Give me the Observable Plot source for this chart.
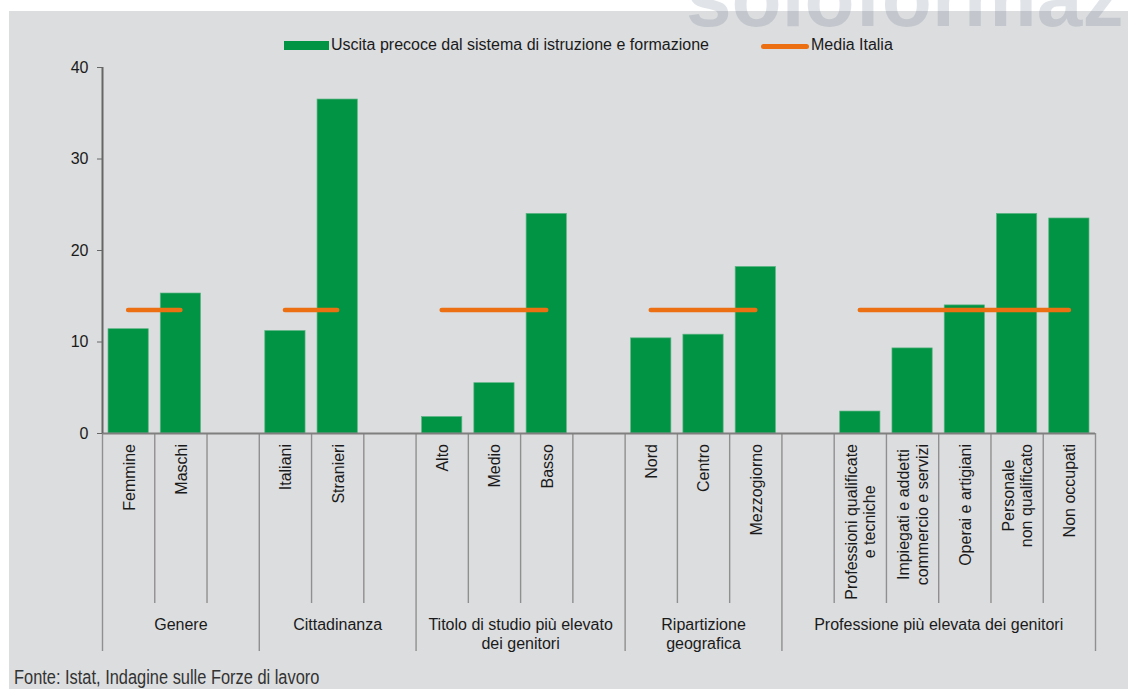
<!DOCTYPE html>
<html>
<head>
<meta charset="utf-8">
<script src="https://cdn.jsdelivr.net/npm/d3@7"></script>
<script src="https://cdn.jsdelivr.net/npm/@observablehq/plot@0.6"></script>
<style>
html, body { margin: 0; padding: 0; background: #fff; }
#page { position: relative; width: 1128px; height: 689px; overflow: hidden; background: #fff;
  font-family: "Liberation Sans", Arial, sans-serif; color: #1a1a1a; }
#panel { position: absolute; left: 9px; top: 11px; right: 0; bottom: 0; background: #dcdddf; }
#wmbox { position: absolute; left: 686px; top: 0; width: 442px; height: 29px; overflow: hidden; }
#watermark { position: absolute; left: 0; top: -43px; font-size: 82px; line-height: 82px; font-weight: bold;
  color: rgba(70, 95, 120, 0.17); white-space: nowrap; }
.lg-text { position: absolute; font-size: 16px; line-height: 16px; white-space: nowrap; color: #1a1a1a; }
#sw1 { position: absolute; left: 284px; top: 41px; width: 45px; height: 9px; background: #009444; }
#sw2 { position: absolute; left: 761px; top: 43.5px; width: 48px; height: 5px; border-radius: 2.5px; background: #ec7012; }
#chart { position: absolute; left: 0; top: 55px; }
#footer { position: absolute; left: 14px; top: 667px; font-family: "Liberation Sans", Arial, sans-serif;
  font-size: 20px; line-height: 20px; color: #333; white-space: nowrap; transform: scaleX(0.82); transform-origin: 0 0; }
</style>
</head>
<body>
<div id="page">
  <div id="panel"></div>
  <div id="wmbox"><div id="watermark">soloformazione</div></div>
  <div id="sw1"></div>
  <div class="lg-text" style="left:331px;top:36.5px">Uscita precoce dal sistema di istruzione e formazione</div>
  <div id="sw2"></div>
  <div class="lg-text" style="left:811px;top:36.5px">Media Italia</div>
  <div id="chart"></div>
  <div id="footer">Fonte: Istat, Indagine sulle Forze di lavoro</div>
</div>
<script>
// ---- data ----
// x slots (tick labels); "" = empty spacer slot
const xSlots = [
  "Femmine", "Maschi", "",
  "Italiani", "Stranieri", "",
  "Alto", "Medio", "Basso", "",
  "Nord", "Centro", "Mezzogiorno",
  "", "Professioni qualificate\ne tecniche", "Impiegati e addetti\ncommercio e servizi",
  "Operai e artigiani", "Personale\nnon qualificato", "Non occupati"
];
// values of the non-empty slots, in order
const values = [11.4, 15.3, 11.2, 36.5, 1.8, 5.5, 24.0, 10.4, 10.8, 18.2, 2.4, 9.3, 14.0, 24.0, 23.5];
const groupNames = [
  "Genere", "Cittadinanza", "Titolo di studio più elevato\ndei genitori",
  "Ripartizione\ngeografica", "Professione più elevata dei genitori"
];
const groupSlotCounts = [3, 3, 4, 3, 6];
const mediaItalia = 13.5;
const yTicks = [0, 10, 20, 30, 40];

// ---- layout ----
const W = 1128, H = 600, marginTop = 12, marginBottom = 222, marginLeft = 102, marginRight = 33;
const plotH = H - marginTop - marginBottom;
const yMax = 40;
const px = p => -p * yMax / plotH;   // pixels below the baseline -> y units

const GREEN = "#009444", ORANGE = "#ec7012", GRID = "#8f8f8f";

// ---- derived tables ----
const bars = [];
let k = 0;
xSlots.forEach((s, i) => { if (s) bars.push({ label: s, slot: i, value: values[k++] }); });

const bounds = [0];
groupSlotCounts.forEach(c => bounds.push(bounds[bounds.length - 1] + c));
const groups = groupNames.map((name, g) => {
  const inside = bars.filter(b => b.slot >= bounds[g] && b.slot < bounds[g + 1]);
  return { name, start: bounds[g], end: bounds[g + 1],
    first: inside[0].slot, last: inside[inside.length - 1].slot, mean: mediaItalia };
});
const inner = d3.range(1, xSlots.length).filter(i => !bounds.includes(i));

const ctx = document.createElement("canvas").getContext("2d");
ctx.font = '16px "Liberation Sans", Arial, sans-serif';
const maxW = s => Math.max(...s.split("\n").map(l => ctx.measureText(l).width));

const chart = Plot.plot({
  width: W, height: H, marginTop, marginBottom, marginLeft, marginRight,
  style: { background: "transparent", fontFamily: '"Liberation Sans", Arial, sans-serif', fontSize: "16px", color: "#1a1a1a", overflow: "visible" },
  x: { domain: [0, xSlots.length], axis: null },
  y: { domain: [0, yMax], axis: null },
  marks: [
    Plot.rectY(bars, { x1: d => d.slot + 0.115, x2: d => d.slot + 0.885, y1: 0, y2: "value",
      fill: GREEN, stroke: "#5db583", strokeWidth: 0.7 }),
    Plot.ruleY(groups, { x1: d => d.first + 0.5, x2: d => d.last + 0.5, y: "mean",
      stroke: ORANGE, strokeWidth: 4.5, strokeLinecap: "round" }),
    // separators below the axis
    Plot.ruleX(inner, { x: d => d, y1: 0, y2: px(170), stroke: GRID, strokeWidth: 1.4 }),
    Plot.ruleX(bounds, { x: d => d, y1: 0, y2: px(218), stroke: GRID, strokeWidth: 1.4 }),
    // axes lines
    Plot.ruleY([0], { x1: 0, x2: xSlots.length, stroke: "#7f7f7f", strokeWidth: 2 }),
    Plot.ruleX([0], { y1: 0, y2: yMax, stroke: "#666", strokeWidth: 2 }),
    Plot.axisY({ ticks: yTicks, tickSize: 5, tickPadding: 9, label: null, stroke: "#666", fill: "#1a1a1a" }),
    // category labels
    Plot.text(bars, { x: d => d.slot + 0.5, y: d => px(10.5 + maxW(d.label) / 2), text: "label",
      rotate: -90, textAnchor: "middle", lineAnchor: "middle", lineHeight: 1.15, fontSize: 16, fill: "#1a1a1a" }),
    // group labels
    Plot.text(groups, { x: d => (d.start + d.end) / 2, y: px(182.5), text: "name",
      textAnchor: "middle", lineAnchor: "top", lineHeight: 1.2, fontSize: 16, fill: "#1a1a1a" })
  ]
});
document.getElementById("chart").appendChild(chart);
</script>
</body>
</html>
